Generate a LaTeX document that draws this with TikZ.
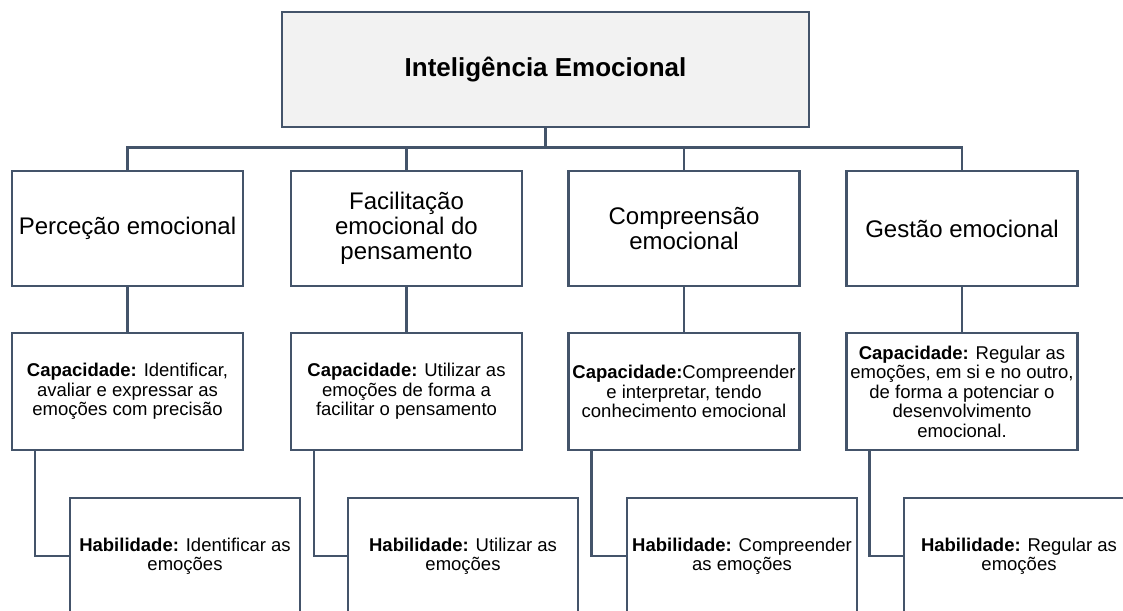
\documentclass[tikz,border=0pt]{standalone}
\usepackage{fontspec}
\setmainfont{Liberation Sans}
\usepackage{tikz}
\usetikzlibrary{positioning}
\definecolor{edge}{HTML}{44546A}
\definecolor{topfill}{HTML}{F2F2F2}
\tikzset{
  topbox/.style={draw=edge, line width=2.5pt, fill=topfill, minimum width=527pt, minimum height=115pt, font=\bfseries\fontsize{26}{28}\selectfont},
  areabox/.style={draw=edge, line width=2.5pt, fill=white, minimum width=231pt, minimum height=115pt, align=center, inner sep=0pt, font=\fontsize{24}{25}\selectfont},
  capbox/.style={areabox, minimum height=117pt, font=\fontsize{18.5}{19.5}\selectfont},
  habbox/.style={capbox, minimum width=230pt, minimum height=116pt},
  link/.style={draw=edge, line width=2.5pt}
}
\begin{document}
\begin{tikzpicture}[x=1pt,y=1pt]
\clip (0,0) rectangle (1123,-610);
% topo
\node[topbox] (ie) at (545.5,-69.5) {Inteligência Emocional};
% areas
\node[areabox] (pe) at (127.5,-228.5) {Perceção emocional};
\node[areabox] (fe) at (406.5,-228.5) {Facilitação\\emocional do\\pensamento};
\node[areabox] (ce) at (684,-228.5) {Compreensão\\emocional};
\node[areabox] (ge) at (962,-228.5) {Gestão emocional};
% capacidades
\node[capbox] (cp1) at (127.5,-391.5) {\textbf{Capacidade:} Identificar,\\avaliar e expressar as\\emoções com precisão};
\node[capbox] (cp2) at (406.5,-391.5) {\textbf{Capacidade:} Utilizar as\\emoções de forma a\\facilitar o pensamento};
\node[capbox] (cp3) at (684,-391.5) {\textbf{Capacidade:}Compreender\\e interpretar, tendo\\conhecimento emocional};
\node[capbox] (cp4) at (962,-391.5) {\textbf{Capacidade:} Regular as\\emoções, em si e no outro,\\de forma a potenciar o\\desenvolvimento\\emocional.};
% habilidades
\node[habbox] (hb1) at (185,-556) {\textbf{Habilidade:} Identificar as\\emoções};
\node[habbox] (hb2) at (463,-556) {\textbf{Habilidade:} Utilizar as\\emoções};
\node[habbox] (hb3) at (742,-556) {\textbf{Habilidade:} Compreender\\as emoções};
\node[habbox] (hb4) at (1019,-556) {\textbf{Habilidade:} Regular as\\emoções};
% ligacoes
\draw[link] (ie.south) -- ++(0,-19) -| (pe.north);
\draw[link] (ie.south) -- ++(0,-19) -| (fe.north);
\draw[link] (ie.south) -- ++(0,-19) -| (ce.north);
\draw[link] (ie.south) -- ++(0,-19) -| (ge.north);
\draw[link] (pe) -- (cp1);
\draw[link] (fe) -- (cp2);
\draw[link] (ce) -- (cp3);
\draw[link] (ge) -- (cp4);
\draw[link] ([xshift=24pt]cp1.south west) |- (hb1.west);
\draw[link] ([xshift=24pt]cp2.south west) |- (hb2.west);
\draw[link] ([xshift=24pt]cp3.south west) |- (hb3.west);
\draw[link] ([xshift=24pt]cp4.south west) |- (hb4.west);
\end{tikzpicture}
\end{document}
